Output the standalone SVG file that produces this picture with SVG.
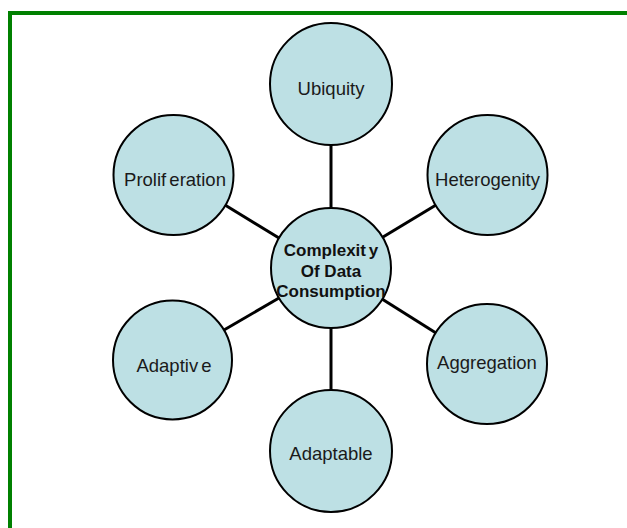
<svg xmlns="http://www.w3.org/2000/svg" width="627" height="528" viewBox="0 0 627 528">
  <style>
    .frame { stroke: #008000; stroke-width: 4; fill: none; }
    .link { stroke: #000; stroke-width: 3; fill: none; }
    .bubble { fill: #bde0e4; stroke: #000; stroke-width: 2; }
    .label { font-family: "Liberation Sans", Arial, sans-serif; font-size: 18.5px; fill: #1a1a1a; text-anchor: middle; word-spacing: -2px; }
    .hub { font-family: "Liberation Sans", Arial, sans-serif; font-size: 17px; font-weight: bold; fill: #111; text-anchor: middle; }
    .tight { word-spacing: -2px; }
  </style>
  <rect width="627" height="528" fill="#fff"/>
  <!-- outer frame -->
  <path class="frame" d="M10 528 V13 H627"/>

  <!-- connectors -->
  <g id="connectors">
    <line class="link" x1="331" y1="208" x2="331" y2="144"/>
    <line class="link" x1="383" y1="237" x2="436" y2="205"/>
    <line class="link" x1="382" y1="299" x2="436" y2="333"/>
    <line class="link" x1="331" y1="328" x2="331" y2="391"/>
    <line class="link" x1="279" y1="298" x2="224" y2="330"/>
    <line class="link" x1="279" y1="238" x2="225" y2="205"/>
  </g>

  <g id="ubiquity">
    <circle class="bubble" cx="331" cy="84" r="61"/>
    <text class="label" x="331" y="95">Ubiquity</text>
  </g>
  <g id="heterogenity">
    <circle class="bubble" cx="487.5" cy="175" r="60"/>
    <text class="label" x="487.5" y="186">Heterogenity</text>
  </g>
  <g id="aggregation">
    <circle class="bubble" cx="487" cy="364" r="60"/>
    <text class="label" x="487" y="369">Aggregation</text>
  </g>
  <g id="adaptable">
    <circle class="bubble" cx="331" cy="451" r="61"/>
    <text class="label" x="331" y="460">Adaptable</text>
  </g>
  <g id="adaptive">
    <circle class="bubble" cx="172.5" cy="360" r="59.5"/>
    <text class="label" x="174" y="372">Adaptiv e</text>
  </g>
  <g id="proliferation">
    <circle class="bubble" cx="173.5" cy="175" r="60"/>
    <text class="label" x="175" y="186">Prolif eration</text>
  </g>
  <g id="complexity">
    <circle class="bubble" cx="331" cy="268" r="60"/>
    <text class="hub tight" x="331" y="256">Complexit y</text>
    <text class="hub" x="331" y="277">Of Data</text>
    <text class="hub" x="331" y="297">Consumption</text>
  </g>
</svg>
